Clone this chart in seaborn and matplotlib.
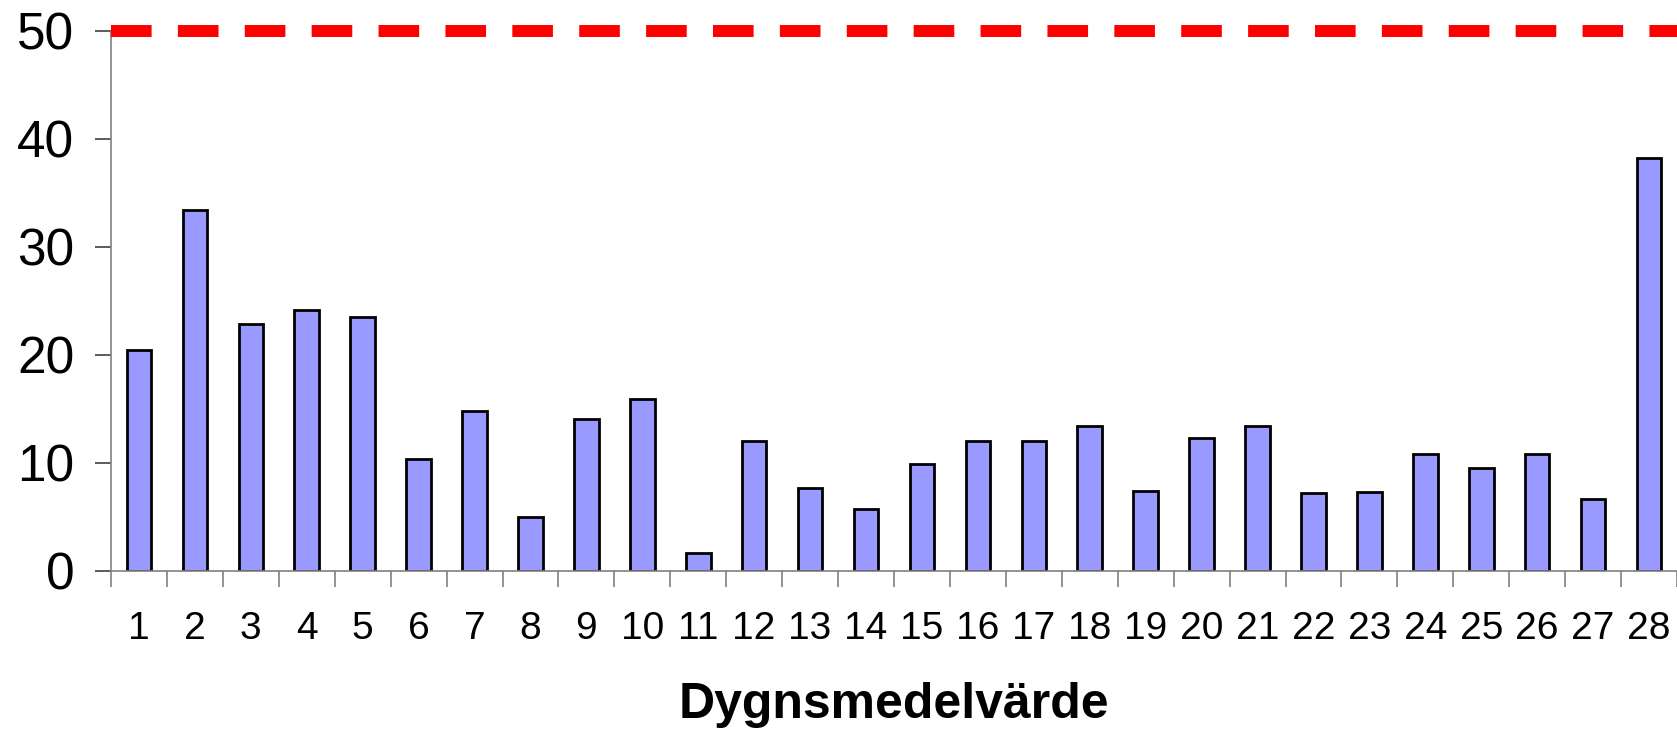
import numpy as np
import pandas as pd
import seaborn as sns
import matplotlib
matplotlib.use("Agg")
import matplotlib.pyplot as plt

days = [str(d) for d in range(1, 29)]
values = [20.5, 33.4, 22.9, 24.2, 23.5, 10.4, 14.8, 5.0, 14.1, 15.9,
          1.7, 12.0, 7.7, 5.7, 9.9, 12.0, 12.0, 13.4, 7.4, 12.3,
          13.4, 7.2, 7.3, 10.8, 9.5, 10.8, 6.7, 38.2]
limit_value = 50
y_ticks = [0, 10, 20, 30, 40, 50]
x_title = "Dygnsmedelvärde"

sns.set_style("white")
plt.rcParams['font.family'] = ['Liberation Sans', 'DejaVu Sans']
plt.rcParams['text.color'] = 'black'
plt.rcParams['xtick.labelcolor'] = 'black'
plt.rcParams['ytick.labelcolor'] = 'black'
plt.rcParams['axes.labelcolor'] = 'black'

df = pd.DataFrame({"Dag": days, "Värde": values})

fig = plt.figure(figsize=(16.77, 7.31), dpi=100)
ax = fig.add_axes([111 / 1677, 1 - 571 / 731, 1566 / 1677, 540 / 731])

sns.barplot(data=df, x="Dag", y="Värde", order=days, color="#9999FF",
            saturation=1, width=0.44, edgecolor="black", linewidth=2.0, ax=ax)

ax.axhline(limit_value, color="red", lw=8.6, linestyle=(0, (3.4, 2.2)),
           solid_capstyle="butt", dash_capstyle="butt", clip_on=False, zorder=5)

ax.set_xlim(-0.5, len(days) - 0.5)
ax.set_ylim(0, 50)
ax.set_yticks(y_ticks)
ax.set_yticklabels([str(t) for t in y_ticks], fontsize=37)

# ticks on category boundaries, labels on centers (Excel style)
ax.set_xticks(np.arange(-0.5, len(days), 1))
ax.set_xticklabels([])
ax.set_xticks(np.arange(len(days)), minor=True)
ax.set_xticklabels(days, minor=True, fontsize=28)
ax.tick_params(axis="x", which="major", direction="out", length=11.5, width=1.2,
               color="#808080", bottom=True)
ax.tick_params(axis="x", which="minor", length=0, pad=29)
ax.tick_params(axis="y", direction="out", length=11.5, width=1.2, color="#404040",
               pad=15, left=True)

for side in ["top", "right"]:
    ax.spines[side].set_visible(False)
for side in ["left", "bottom"]:
    ax.spines[side].set_color("#808080")
    ax.spines[side].set_linewidth(1.2)

ax.set_ylabel("")
ax.set_xlabel(x_title, fontsize=36, fontweight="bold")
ax.xaxis.label.set_va("center")
ax.xaxis.set_label_coords(0.5, (571 - 705) / 540)

plt.savefig("out.png", dpi=100)
plt.close()
